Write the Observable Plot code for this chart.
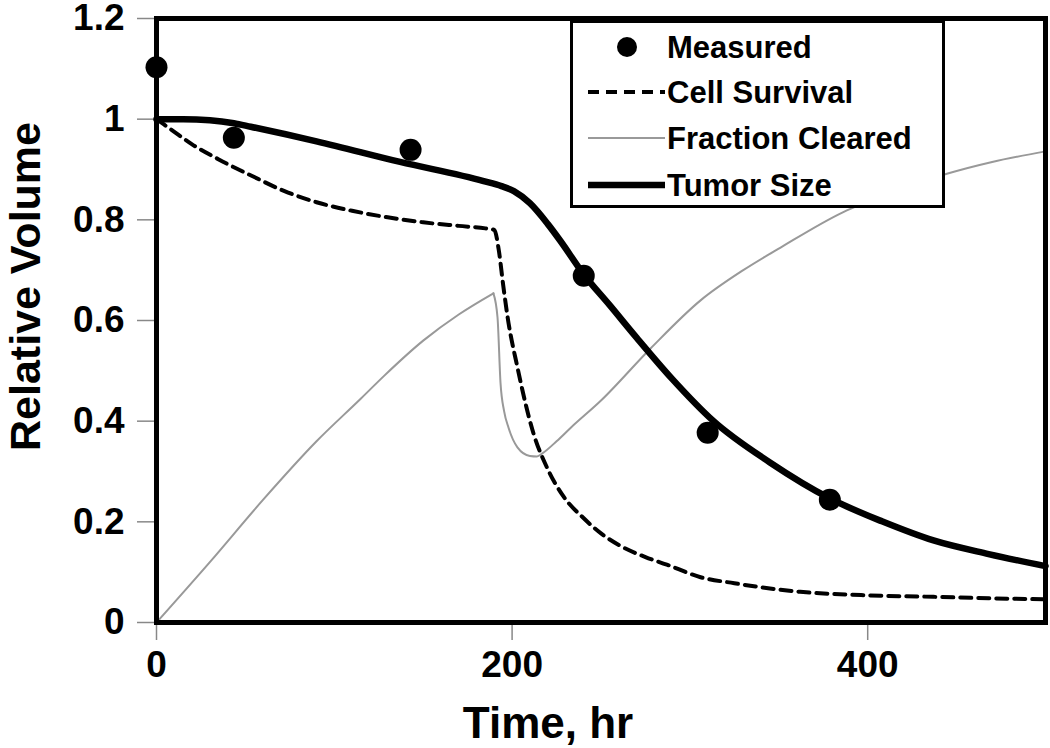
<!DOCTYPE html>
<html><head><meta charset="utf-8">
<script src="https://cdn.jsdelivr.net/npm/d3@7"></script>
<script src="https://cdn.jsdelivr.net/npm/@observablehq/plot@0.6"></script>
<style>
body{margin:0;background:#fff;}
#wrap{position:relative;width:1050px;height:748px;}
#legend{position:absolute;left:570px;top:20px;width:369px;height:182px;border:3px solid #000;background:#fff;}
</style></head><body><div id="wrap"></div>
<script>
// Measured points
const measuredT = [0, 43.5, 142.9, 240.3, 310, 378.7];
const measuredV = [1.103, 0.963, 0.939, 0.689, 0.377, 0.244];

// Cell Survival (dashed)
const cellT = [0, 8, 20, 35, 55, 72, 90, 110, 130, 150, 170, 185, 190, 192.5, 195, 197.5, 203, 212, 220, 229, 240, 250, 261, 275, 287, 306, 325, 344, 362, 400, 437, 470, 500];
const cellV = [1.0, 0.98, 0.95, 0.92, 0.885, 0.857, 0.835, 0.818, 0.805, 0.795, 0.788, 0.783, 0.78, 0.74, 0.67, 0.606, 0.507, 0.376, 0.305, 0.25, 0.208, 0.177, 0.152, 0.13, 0.115, 0.09, 0.078, 0.068, 0.061, 0.054, 0.051, 0.048, 0.046];

// Fraction Cleared (thin gray)
const fracT = [0, 30, 60, 90, 115, 128, 150, 170, 189.5, 191.8, 193.5, 195.5, 198, 203, 210, 214, 217, 225, 233, 250, 278, 306, 330, 351, 386, 415, 445, 470, 500];
const fracV = [0, 0.12, 0.244, 0.36, 0.445, 0.49, 0.56, 0.612, 0.654, 0.606, 0.475, 0.42, 0.387, 0.348, 0.331, 0.33, 0.336, 0.36, 0.387, 0.441, 0.545, 0.64, 0.70, 0.745, 0.815, 0.856, 0.892, 0.915, 0.936];

// Tumor Size (thick)
const tumorT = [0, 15, 30, 43.5, 53, 90, 137, 184, 194, 201, 210, 220, 227, 240, 255, 270, 290, 313, 345, 379, 408, 437, 468, 500];
const tumorV = [1.0, 1.0, 0.998, 0.992, 0.985, 0.956, 0.915, 0.877, 0.867, 0.857, 0.833, 0.792, 0.759, 0.693, 0.63, 0.566, 0.484, 0.401, 0.318, 0.246, 0.201, 0.163, 0.136, 0.112];

const seriesNames = ["Measured", "Cell Survival", "Fraction Cleared", "Tumor Size"];
const xTicks = [0, 200, 400];
const yTicks = [0, 0.2, 0.4, 0.6, 0.8, 1, 1.2];
const xTitle = "Time, hr";
const yTitle = "Relative Volume";

const zip = (t, v) => t.map((d, i) => ({t: d, v: v[i]}));
const measured = zip(measuredT, measuredV);
const cell = zip(cellT, cellV);
const tumor = zip(tumorT, tumorV);
// split the fraction-cleared curve at its sharp peak so each side is smoothed separately
const peakIdx = fracV.indexOf(d3.max(fracV.slice(0, 12)));
const frac = [];
fracT.forEach((t, i) => {
  if (i <= peakIdx) frac.push({t, v: fracV[i], seg: "rise"});
  if (i >= peakIdx) frac.push({t, v: fracV[i], seg: "fall"});
});

const FONT = '"Liberation Sans", Arial, Helvetica, sans-serif';

const chart = Plot.plot({
  width: 1050,
  height: 748,
  marginLeft: 156,
  marginRight: 5,
  marginTop: 18,
  marginBottom: 126,
  style: {fontFamily: FONT, fontWeight: "bold", fontSize: "37px", background: "#fff", color: "#000"},
  x: {domain: [0, 500]},
  y: {domain: [0, 1.2]},
  marks: [
    Plot.axisX({ticks: xTicks, tickSize: 18, tickPadding: 10, label: null, stroke: "#888", strokeWidth: 1.5, fill: "#000", tickFormat: d => String(d)}),
    Plot.axisY({ticks: yTicks, tickSize: 19, tickPadding: 13, label: null, stroke: "#888", strokeWidth: 1.5, fill: "#000", tickFormat: d => String(d)}),
    Plot.line(frac, {x: "t", y: "v", z: "seg", stroke: "#999", strokeWidth: 2, curve: "monotone-x"}),
    Plot.line(cell, {x: "t", y: "v", stroke: "#000", strokeWidth: 4, strokeDasharray: "11,7", curve: "monotone-x"}),
    Plot.line(tumor, {x: "t", y: "v", stroke: "#000", strokeWidth: 6.5, curve: "monotone-x"}),
    Plot.dot(measured, {x: "t", y: "v", r: 11, fill: "#000", stroke: null}),
    Plot.frame({stroke: "#000", strokeWidth: 5}),
    Plot.text([yTitle], {frameAnchor: "left", text: d => d, rotate: -90, dx: -117, dy: -34, lineAnchor: "bottom", textAnchor: "middle", fontSize: 43, fontWeight: "bold", fill: "#000"}),
    Plot.text([xTitle], {frameAnchor: "bottom", text: d => d, dx: -53, dy: 115, lineAnchor: "bottom", textAnchor: "middle", fontSize: 44, fontWeight: "bold", fill: "#000"})
  ]
});

const wrap = document.getElementById("wrap");
wrap.appendChild(chart);

// Legend overlay (inside plot area, top right)
const legend = document.createElement("div");
legend.id = "legend";
wrap.appendChild(legend);
const ls = d3.select(legend).append("svg").attr("width", 369).attr("height", 182)
  .style("font-family", FONT).style("font-weight", "bold").style("font-size", "31px");
const rowY = [24, 69, 115, 162];
const textX = 94;
// Measured
ls.append("circle").attr("cx", 54).attr("cy", rowY[0]).attr("r", 10).attr("fill", "#000");
// Cell Survival
ls.append("line").attr("x1", 15).attr("x2", 92).attr("y1", rowY[1]).attr("y2", rowY[1])
  .attr("stroke", "#000").attr("stroke-width", 4).attr("stroke-dasharray", "11,7");
// Fraction Cleared
ls.append("line").attr("x1", 15).attr("x2", 92).attr("y1", rowY[2]).attr("y2", rowY[2])
  .attr("stroke", "#999").attr("stroke-width", 2);
// Tumor Size
ls.append("line").attr("x1", 15).attr("x2", 92).attr("y1", rowY[3]).attr("y2", rowY[3])
  .attr("stroke", "#000").attr("stroke-width", 6.5);
seriesNames.forEach((name, i) => {
  ls.append("text").attr("x", textX).attr("y", rowY[i]).attr("dy", "0.35em").attr("fill", "#000").text(name);
});
</script>
</body></html>
